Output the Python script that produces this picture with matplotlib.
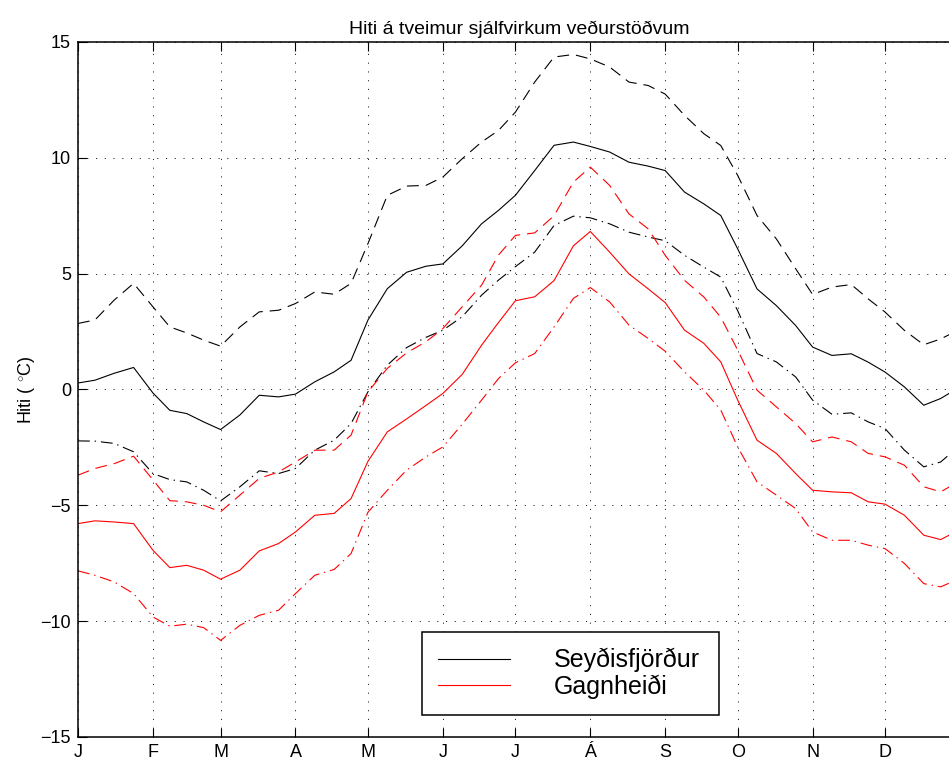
import matplotlib
matplotlib.use('Agg')
import matplotlib.pyplot as plt

plt.rcParams['font.family'] = ['Liberation Sans', 'DejaVu Sans']
plt.rcParams['lines.scale_dashes'] = False
plt.rcParams['mathtext.fontset'] = 'custom'
plt.rcParams['mathtext.rm'] = 'Liberation Sans'

# day of year for each reading
days = [1, 8, 16, 24, 32, 39, 46, 53, 60, 68, 76, 84, 91, 99, 107, 114, 121,
        129, 137, 145, 152, 160, 168, 175, 182, 190, 198, 206, 213, 221, 229,
        237, 244, 252, 260, 267, 274, 282, 290, 298, 305, 313, 321, 328, 335,
        343, 351, 358, 365]

# Seyðisfjörður: mean, max, min
sey_mean = [0.28, 0.40, 0.70, 0.95, -0.15, -0.90, -1.04, -1.40, -1.73, -1.10,
            -0.25, -0.32, -0.20, 0.33, 0.76, 1.26, 3.00, 4.35, 5.06, 5.32, 5.42,
            6.20, 7.15, 7.73, 8.38, 9.45, 10.54, 10.68, 10.49, 10.25, 9.81,
            9.64, 9.45, 8.52, 8.01, 7.51, 6.07, 4.34, 3.62, 2.76, 1.83, 1.47,
            1.54, 1.18, 0.75, 0.11, -0.68, -0.39, 0.05]
sey_max = [2.85, 3.00, 3.86, 4.58, 3.57, 2.70, 2.44, 2.13, 1.87, 2.70, 3.35,
           3.42, 3.71, 4.21, 4.11, 4.58, 6.30, 8.38, 8.78, 8.81, 9.17, 9.96,
           10.68, 11.18, 11.97, 13.27, 14.35, 14.46, 14.27, 13.92, 13.27,
           13.12, 12.75, 11.83, 11.04, 10.53, 9.24, 7.51, 6.50, 5.21, 4.10,
           4.42, 4.53, 3.91, 3.34, 2.55, 1.93, 2.18, 2.55]
sey_min = [-2.22, -2.23, -2.33, -2.69, -3.63, -3.89, -3.99, -4.35, -4.81,
           -4.20, -3.51, -3.63, -3.41, -2.62, -2.19, -1.47, -0.10, 1.05, 1.81,
           2.25, 2.56, 3.14, 4.07, 4.72, 5.30, 5.93, 7.08, 7.48, 7.41, 7.15,
           6.79, 6.58, 6.42, 5.79, 5.28, 4.85, 3.40, 1.55, 1.19, 0.54, -0.46,
           -1.07, -1.01, -1.40, -1.69, -2.62, -3.34, -3.13, -2.50]

# Gagnheiði: mean, max, min
gag_mean = [-5.79, -5.67, -5.72, -5.79, -6.94, -7.69, -7.59, -7.80, -8.19,
            -7.80, -6.97, -6.65, -6.15, -5.43, -5.35, -4.71, -3.10, -1.83,
            -1.27, -0.69, -0.17, 0.65, 1.91, 2.89, 3.83, 4.00, 4.70, 6.20,
            6.82, 5.93, 4.99, 4.34, 3.75, 2.56, 1.99, 1.19, -0.46, -2.19,
            -2.76, -3.63, -4.35, -4.42, -4.46, -4.85, -4.95, -5.43, -6.29,
            -6.48, -6.10]
gag_max = [-3.70, -3.41, -3.20, -2.88, -3.90, -4.80, -4.85, -5.00, -5.28,
           -4.56, -3.84, -3.56, -3.13, -2.62, -2.62, -1.97, -0.10, 0.91, 1.58,
           2.06, 2.63, 3.57, 4.50, 5.80, 6.65, 6.76, 7.50, 8.95, 9.60, 8.81,
           7.58, 6.93, 5.79, 4.71, 3.99, 3.12, 1.70, -0.03, -0.75, -1.47,
           -2.26, -2.05, -2.26, -2.76, -2.91, -3.27, -4.20, -4.42, -4.00]
gag_min = [-7.83, -8.02, -8.31, -8.81, -9.82, -10.22, -10.13, -10.28, -10.83,
           -10.18, -9.75, -9.53, -8.81, -8.02, -7.77, -7.08, -5.30, -4.35,
           -3.48, -2.91, -2.48, -1.50, -0.46, 0.47, 1.15, 1.55, 2.70, 3.93,
           4.40, 3.78, 2.78, 2.20, 1.65, 0.76, -0.03, -0.89, -2.48, -3.99,
           -4.56, -5.14, -6.15, -6.51, -6.51, -6.72, -6.87, -7.51, -8.38,
           -8.52, -8.20]

month_starts = [1, 32, 60, 91, 121, 152, 182, 213, 244, 274, 305, 335]
month_labels = ['J', 'F', 'M', 'A', 'M', 'J', 'J', 'Á', 'S', 'O', 'N', 'D']
y_ticks = [-15, -10, -5, 0, 5, 10, 15]

dashed = (0, (8.5, 5.0))
dashdot = (0, (8.5, 3.5, 1.0, 3.5))
lw = 0.8

fig = plt.figure(figsize=(9.49, 7.66), dpi=100)
ax = fig.add_axes([0.0822, 0.0379, 0.9294, 0.9073])

l1, = ax.plot(days, sey_mean, color='k', lw=lw, label='Seyðisfjörður')
ax.plot(days, sey_max, color='k', lw=lw, linestyle=dashed)
ax.plot(days, sey_min, color='k', lw=lw, linestyle=dashdot)
l2, = ax.plot(days, gag_mean, color='red', lw=lw, label='Gagnheiði')
ax.plot(days, gag_max, color='red', lw=lw, linestyle=dashed)
ax.plot(days, gag_min, color='red', lw=lw, linestyle=dashdot)

ax.set_xlim(1, 366)
ax.set_ylim(-15, 15)
ax.set_xticks(month_starts)
ax.set_xticklabels(month_labels)
ax.set_yticks(y_ticks)

ax.set_axisbelow(True)
ax.grid(True, color='k', linewidth=0.6, linestyle=(0, (0.8, 5.5)))
ax.tick_params(direction='in', length=6.5, width=0.8, top=True, right=True,
               labelsize=13, pad=5)
for s in ax.spines.values():
    s.set_linewidth(1.1)

ax.set_title('Hiti á tveimur sjálfvirkum veðurstöðvum', fontsize=14, pad=6)
ax.set_ylabel(r'Hiti ( $^{\circ}$C)', fontsize=13)
ax.yaxis.set_label_coords(-0.046, 0.5)

leg = ax.legend(handles=[l1, l2], loc='center', mode='expand',
                bbox_to_anchor=(0.4444, 0.0668, 0.313, 0.108),
                bbox_transform=fig.transFigure, fontsize=18,
                fancybox=False, framealpha=1, edgecolor='k',
                borderpad=0.65, labelspacing=0.08, handlelength=2.88,
                handletextpad=1.74, borderaxespad=0)
leg.get_frame().set_linewidth(1.1)

fig.savefig('out.png', dpi=100)
